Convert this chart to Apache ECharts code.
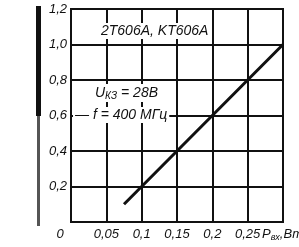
<!DOCTYPE html>
<html>
<head>
<meta charset="utf-8">
<script src="https://cdn.jsdelivr.net/npm/echarts@6/dist/echarts.min.js"></script>
<style>
  html, body { margin: 0; padding: 0; background: #fff; }
  #chart { width: 299px; height: 247px; }
</style>
</head>
<body>
<div id="chart"></div>
<script>
// входная мощность, Вт
var pIn = [0.075, 0.1, 0.15, 0.2, 0.25, 0.3];
// выходная мощность, Вт
var pOut = [0.1, 0.2, 0.4, 0.6, 0.8, 1.0];
var xTicks = [0, 0.05, 0.1, 0.15, 0.2, 0.25, 0.3];
var yTicks = [0, 0.2, 0.4, 0.6, 0.8, 1.0, 1.2];

var ink = "#111";
var font = "Liberation Sans";

function comma(v) {
  return String(+v.toFixed(2)).replace(".", ",");
}

var myChart = echarts.init(document.getElementById("chart"));
myChart.setOption({
  animation: false,
  grid: { left: 71, top: 9, right: 16, bottom: 25 },
  xAxis: {
    type: "value",
    min: xTicks[0],
    max: xTicks[xTicks.length - 1],
    interval: 0.05,
    axisLine: { lineStyle: { color: ink, width: 2 } },
    axisTick: { show: false },
    splitLine: { lineStyle: { color: ink, width: 2 } },
    axisLabel: {
      margin: 6,
      showMinLabel: true,
      hideOverlap: false,
      color: ink,
      fontFamily: font,
      fontStyle: "italic",
      fontSize: 13,
      formatter: function (v) {
        if (v === 0) return "{z|0}";
        if (Math.abs(v - 0.3) < 1e-9) return "";
        return comma(v);
      },
      rich: {
        z: { fontFamily: font, fontStyle: "italic", fontSize: 13, color: ink, padding: [0, 22, 0, 0] }
      }
    }
  },
  yAxis: {
    type: "value",
    min: yTicks[0],
    max: yTicks[yTicks.length - 1],
    interval: 0.2,
    axisLine: { show: true, lineStyle: { color: ink, width: 2 } },
    axisTick: { show: false },
    splitLine: { lineStyle: { color: ink, width: 2 } },
    axisLabel: {
      margin: 4,
      color: ink,
      fontFamily: font,
      fontStyle: "italic",
      fontSize: 13,
      formatter: function (v) {
        return v === 0 ? "" : v.toFixed(1).replace(".", ",");
      }
    }
  },
  graphic: [
    // рамка сверху и справа
    { type: "rect", shape: { x: 71, y: 9, width: 212, height: 213 }, style: { fill: "none", stroke: ink, lineWidth: 2 }, z: 1 },
    // край скана слева
    { type: "rect", shape: { x: 36, y: 6, width: 5, height: 110 }, style: { fill: "#111" } },
    { type: "rect", shape: { x: 37, y: 116, width: 3, height: 110 }, style: { fill: "#555" } },
    {
      type: "text", left: 262, top: 228,
      style: {
        text: "{p|P}{s|вх}{p|,Вт}",
        rich: {
          p: { fontFamily: font, fontStyle: "italic", fontSize: 13, fill: ink },
          s: { fontFamily: font, fontStyle: "italic", fontSize: 9, fill: ink, padding: [6, 0, 0, 0] }
        }
      }
    },
    {
      type: "text", left: 99, top: 23, z: 10,
      style: { text: "2T606A, KT606A", fontFamily: font, fontStyle: "italic", fontSize: 14, fill: ink, backgroundColor: "#fff", padding: [1, 2] }
    },
    {
      type: "text", left: 93, top: 84, z: 10,
      style: {
        text: "{u|U}{k|КЗ}{u| = 28В}",
        backgroundColor: "#fff", padding: [1, 2],
        rich: {
          u: { fontFamily: font, fontStyle: "italic", fontSize: 14, fill: ink },
          k: { fontFamily: font, fontStyle: "italic", fontSize: 10, fill: ink, padding: [6, 0, 0, 0] }
        }
      }
    },
    {
      type: "text", left: 73, top: 107, z: 10,
      style: { text: "— f = 400 МГц", fontFamily: font, fontStyle: "italic", fontSize: 14, fill: ink, backgroundColor: "#fff", padding: [1, 2] }
    }
  ],
  series: [
    {
      type: "line",
      data: pIn.map(function (x, i) { return [x, pOut[i]]; }),
      symbol: "none",
      z: 5,
      lineStyle: { color: ink, width: 3 }
    }
  ]
});
window.onresize = function () {
  myChart.resize();
};
</script>
</body>
</html>
